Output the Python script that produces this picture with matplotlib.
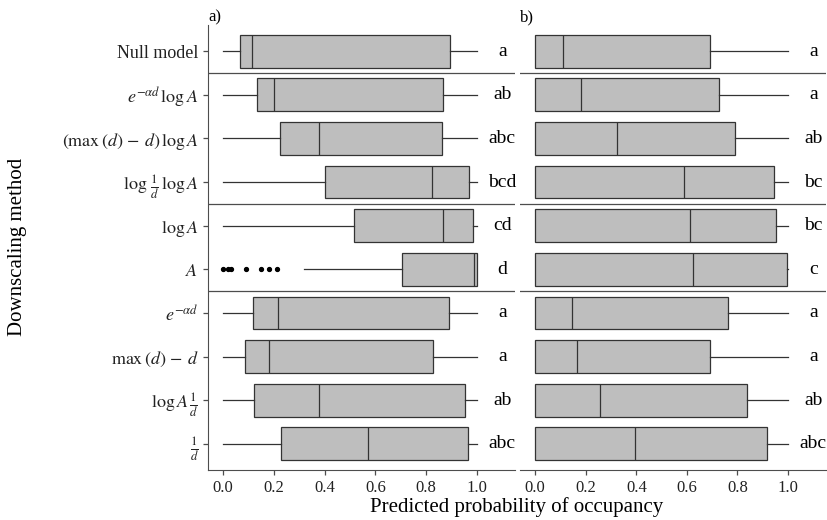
import matplotlib
matplotlib.use("Agg")
import matplotlib.pyplot as plt

plt.rcParams['font.family'] = ['Liberation Serif', 'DejaVu Serif']
plt.rcParams['mathtext.fontset'] = 'stix'

labels = ["Null model",
          r"$e^{-\alpha d}\,\log A$",
          r"$(\max\,(d)\,-\,d)\,\log A$",
          r"$\log\,\frac{1}{d}\,\log A$",
          r"$\log A$",
          r"$A$",
          r"$e^{-\alpha d}$",
          r"$\max\,(d)\,-\,d$",
          r"$\log A\,\frac{1}{d}$",
          r"$\frac{1}{d}$"]

# Panel a
a_whislo = [0.0, 0.0, 0.0, 0.0, 0.0, 0.32, 0.0, 0.0, 0.0, 0.0]
a_q1 = [0.068, 0.134, 0.224, 0.403, 0.514, 0.703, 0.118, 0.087, 0.121, 0.229]
a_med = [0.113, 0.200, 0.379, 0.821, 0.868, 0.987, 0.216, 0.182, 0.379, 0.572]
a_q3 = [0.893, 0.866, 0.862, 0.967, 0.983, 0.999, 0.888, 0.826, 0.951, 0.964]
a_whishi = [1.0, 1.0, 1.0, 1.0, 1.0, 1.0, 1.0, 1.0, 1.0, 1.0]
a_outliers_A = [0.0, 0.02, 0.03, 0.09, 0.15, 0.18, 0.21]
a_letters = ['a', 'ab', 'abc', 'bcd', 'cd', 'd', 'a', 'a', 'ab', 'abc']

# Panel b
b_whislo = [0.0] * 10
b_q1 = [0.0] * 10
b_med = [0.111, 0.182, 0.324, 0.587, 0.612, 0.626, 0.145, 0.166, 0.255, 0.395]
b_q3 = [0.693, 0.726, 0.789, 0.943, 0.954, 0.995, 0.762, 0.693, 0.838, 0.918]
b_whishi = [1.0] * 10
b_letters = ['a', 'a', 'ab', 'bc', 'bc', 'c', 'a', 'a', 'ab', 'abc']

separators = [0.5, 3.5, 5.5]
xticks = [0.0, 0.2, 0.4, 0.6, 0.8, 1.0]

fig = plt.figure(figsize=(8.28, 5.2), dpi=100)
axa = fig.add_axes([208/828, 1-470/520, 307/828, 445/520])
axb = fig.add_axes([520/828, 1-470/520, 306/828, 445/520])

line_col = '#333333'
spine_col = '#4d4d4d'

def draw(ax, whislo, q1, med, q3, whishi, letters, fliers_map):
    stats = []
    for i in range(len(labels)):
        stats.append(dict(whislo=whislo[i], q1=q1[i], med=med[i], q3=q3[i],
                          whishi=whishi[i], fliers=fliers_map.get(i, [])))
    ax.bxp(stats, positions=list(range(len(labels))), vert=False, widths=0.75,
           patch_artist=True, showcaps=False,
           boxprops=dict(facecolor='#bebebe', edgecolor=line_col, linewidth=0.9),
           medianprops=dict(color=line_col, linewidth=0.9),
           whiskerprops=dict(color=line_col, linewidth=0.9),
           flierprops=dict(marker='o', markerfacecolor='black', markeredgecolor='black',
                           markersize=2.8, linestyle='none'))
    for i, l in enumerate(letters):
        ax.text(1.1, i, l, ha='center', va='center', fontsize=14)
    for s in separators:
        ax.axhline(s, color=spine_col, linewidth=0.9)
    ax.set_ylim(len(labels) - 0.4, -0.6)
    ax.set_xlim(-0.06, 1.15)
    ax.set_xticks(xticks)
    ax.set_xticklabels([f"{t:.1f}" for t in xticks], fontsize=12)
    for sp in ['top', 'right']:
        ax.spines[sp].set_visible(False)
    ax.spines['bottom'].set_color(spine_col)
    ax.spines['left'].set_color(spine_col)
    ax.tick_params(colors=spine_col, length=3.5, width=0.9, labelcolor='#222222')

draw(axa, a_whislo, a_q1, a_med, a_q3, a_whishi, a_letters, {5: a_outliers_A})
axa.set_yticks(list(range(len(labels))))
axa.set_yticklabels(labels, fontsize=13)

draw(axb, b_whislo, b_q1, b_med, b_q3, b_whishi, b_letters, {})
axb.spines['left'].set_visible(False)
axb.set_yticks([])

axa.text(0.0, 1.0, 'a)', transform=axa.transAxes, ha='left', va='bottom', fontsize=12)
axb.text(0.0, 1.0, 'b)', transform=axb.transAxes, ha='left', va='bottom', fontsize=12)

fig.text(517/828, 1-507/520, 'Predicted probability of occupancy', ha='center', va='center', fontsize=15)
fig.text(18/828, 1-247/520, 'Downscaling method', ha='center', va='center', rotation=90, fontsize=15)

fig.savefig('out.png', dpi=100)
